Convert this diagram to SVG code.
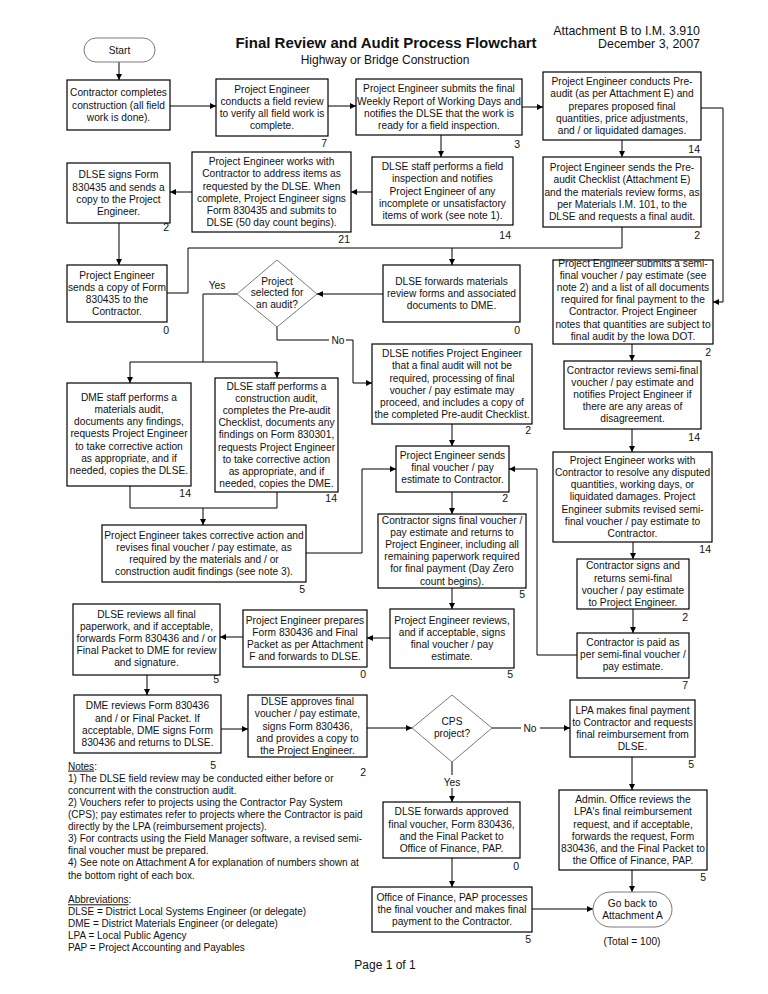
<svg xmlns="http://www.w3.org/2000/svg" width="768" height="994" viewBox="0 0 768 994">
<defs>
<style>
text{font-family:"Liberation Sans",Arial,Helvetica,sans-serif;fill:#111}
.t{font-size:10.2px;text-anchor:middle}
.n{font-size:10.5px;text-anchor:end}
.box{fill:#fff;stroke:#000;stroke-width:1.2}
.dia{fill:#fff;stroke:#7a7a7a;stroke-width:1}
.term{fill:#fff;stroke:#7a7a7a;stroke-width:1}
.c{fill:none;stroke:#000;stroke-width:1}
.a{marker-end:url(#ah)}
.lbl{font-size:10.2px;text-anchor:middle}
.note{font-size:10px}
</style>
<marker id="ah" viewBox="0 0 10 10" refX="10" refY="5" markerWidth="7" markerHeight="6" markerUnits="userSpaceOnUse" orient="auto"><path d="M0,0 L10,5 L0,10 z" fill="#000"/></marker>
</defs>
<rect width="768" height="994" fill="#fff"/>

<g id="header">
<text x="386" y="48" style="font-size:15px;font-weight:bold;text-anchor:middle">Final Review and Audit Process Flowchart</text>
<text x="385" y="64" style="font-size:12px;text-anchor:middle">Highway or Bridge Construction</text>
<text x="700" y="35" style="font-size:12.4px;text-anchor:end">Attachment B to I.M. 3.910</text>
<text x="700" y="48" style="font-size:12.4px;text-anchor:end">December 3, 2007</text>
</g>

<g id="connectors">
<path class="c a" d="M119,62 V80"/>
<path class="c a" d="M170,106 H216"/>
<path class="c a" d="M328,106 H356"/>
<path class="c a" d="M522,107 H543"/>
<path class="c a" d="M441,135 V157"/>
<path class="c a" d="M622,140 V157"/>
<path class="c a" d="M372,192 H351"/>
<path class="c a" d="M192,192 H170"/>
<path class="c a" d="M119,223 V265"/>
<path class="c" d="M622,227 V248 H188 V293 H167"/>
<path class="c a" d="M452,248 V265"/>
<path class="c a" d="M383,294 H317"/>
<path class="c" d="M237,294 H203 V362"/>
<path class="c" d="M130,362 H277"/>
<path class="c a" d="M130,362 V383"/>
<path class="c a" d="M277,362 V378"/>
<path class="c a" d="M277,327 V340 H353 V383 H372"/>
<path class="c" d="M130,486 V508 H277 V492"/>
<path class="c a" d="M203,508 V525"/>
<path class="c a" d="M306,553 H362 V469 H396"/>
<path class="c a" d="M452,424 V446"/>
<path class="c a" d="M452,492 V514"/>
<path class="c a" d="M452,588 V609"/>
<path class="c a" d="M390,638 H367"/>
<path class="c a" d="M243,637 H220"/>
<path class="c a" d="M147,675 V695"/>
<path class="c a" d="M221,729 H248"/>
<path class="c a" d="M367,728 H412"/>
<path class="c a" d="M492,728 H570"/>
<path class="c a" d="M452,762 V802"/>
<path class="c a" d="M452,858 V887"/>
<path class="c a" d="M532,909 H593"/>
<path class="c a" d="M632,757 V790"/>
<path class="c a" d="M632,870 V892"/>
<path class="c a" d="M701,108 H723 V302 H713"/>
<path class="c a" d="M632,344 V361"/>
<path class="c a" d="M632,429 V452"/>
<path class="c a" d="M633,542 V559"/>
<path class="c a" d="M633,609 V633"/>
<path class="c a" d="M577,655 H537 V469 H509"/>
<rect x="329" y="334" width="17" height="12" fill="#fff"/>
<text class="lbl" x="338" y="343.6">No</text>
<text class="lbl" x="217" y="288.6">Yes</text>
<rect x="521" y="722" width="19" height="12" fill="#fff"/>
<text class="lbl" x="530" y="731.6">No</text>
<rect x="440" y="775" width="24" height="13" fill="#fff"/>
<text class="lbl" x="452" y="785.6">Yes</text>
</g>

<g id="start">
<rect class="term" x="84" y="38" width="71" height="24" rx="12"/>
<text class="t" x="119.5" y="53.6">Start</text>
</g>

<g id="n_contractor_completes">
<rect class="box" x="67" y="80" width="103" height="50"/>
<text class="t" y="96.4"><tspan x="118.5">Contractor completes</tspan><tspan x="118.5" dy="12.2">construction (all field</tspan><tspan x="118.5" dy="12.2">work is done).</tspan></text>
</g>

<g id="n_field_review">
<rect class="box" x="216" y="79" width="112" height="57"/>
<text class="t" y="92.8"><tspan x="272">Project Engineer</tspan><tspan x="272" dy="12.2">conducts a field review</tspan><tspan x="272" dy="12.2">to verify all field work is</tspan><tspan x="272" dy="12.2">complete.</tspan></text>
<text class="n" x="327" y="147">7</text>
</g>

<g id="n_weekly_report">
<rect class="box" x="356" y="79" width="166" height="56"/>
<text class="t" y="92.3"><tspan x="439">Project Engineer submits the final</tspan><tspan x="439" dy="12.2">Weekly Report of Working Days and</tspan><tspan x="439" dy="12.2">notifies the DLSE that the work is</tspan><tspan x="439" dy="12.2">ready for a field inspection.</tspan></text>
<text class="n" x="520" y="148">3</text>
</g>

<g id="n_preaudit">
<rect class="box" x="543" y="72" width="158" height="68"/>
<text class="t" y="85.2"><tspan x="622">Project Engineer conducts Pre-</tspan><tspan x="622" dy="12.2">audit (as per Attachment E) and</tspan><tspan x="622" dy="12.2">prepares proposed final</tspan><tspan x="622" dy="12.2">quantities, price adjustments,</tspan><tspan x="622" dy="12.2">and / or liquidated damages.</tspan></text>
<text class="n" x="700" y="152.6">14</text>
</g>

<g id="n_dlse_signs">
<rect class="box" x="67" y="163" width="103" height="60"/>
<text class="t" y="178.3"><tspan x="118.5">DLSE signs Form</tspan><tspan x="118.5" dy="12.2">830435 and sends a</tspan><tspan x="118.5" dy="12.2">copy to the Project</tspan><tspan x="118.5" dy="12.2">Engineer.</tspan></text>
<text class="n" x="169" y="231">2</text>
</g>

<g id="n_pe_works">
<rect class="box" x="192" y="152" width="159" height="80"/>
<text class="t" y="165.1"><tspan x="271.5">Project Engineer works with</tspan><tspan x="271.5" dy="12.2">Contractor to address items as</tspan><tspan x="271.5" dy="12.2">requested by the DLSE.  When</tspan><tspan x="271.5" dy="12.2">complete, Project Engineer signs</tspan><tspan x="271.5" dy="12.2">Form 830435 and submits to</tspan><tspan x="271.5" dy="12.2">DLSE (50 day count begins).</tspan></text>
<text class="n" x="350" y="243">21</text>
</g>

<g id="n_field_inspection">
<rect class="box" x="372" y="157" width="141" height="68"/>
<text class="t" y="170.2"><tspan x="442.5">DLSE staff performs a field</tspan><tspan x="442.5" dy="12.2">inspection and notifies</tspan><tspan x="442.5" dy="12.2">Project Engineer of any</tspan><tspan x="442.5" dy="12.2">incomplete or unsatisfactory</tspan><tspan x="442.5" dy="12.2">items of work (see note 1).</tspan></text>
<text class="n" x="511" y="238.6">14</text>
</g>

<g id="n_checklist">
<rect class="box" x="543" y="157" width="158" height="70"/>
<text class="t" y="171.2"><tspan x="622">Project Engineer sends the Pre-</tspan><tspan x="622" dy="12.2">audit Checklist (Attachment E)</tspan><tspan x="622" dy="12.2">and the materials review forms, as</tspan><tspan x="622" dy="12.2">per Materials I.M. 101, to the</tspan><tspan x="622" dy="12.2">DLSE and requests a final audit.</tspan></text>
<text class="n" x="700" y="238.6">2</text>
</g>

<g id="n_send_copy">
<rect class="box" x="67" y="265" width="100" height="57"/>
<text class="t" y="278.8"><tspan x="117">Project Engineer</tspan><tspan x="117" dy="12.2">sends a copy of Form</tspan><tspan x="117" dy="12.2">830435 to the</tspan><tspan x="117" dy="12.2">Contractor.</tspan></text>
<text class="n" x="169" y="333.6">0</text>
</g>

<g id="n_forwards_materials">
<rect class="box" x="383" y="265" width="137" height="57"/>
<text class="t" y="284.9"><tspan x="451.5">DLSE forwards materials</tspan><tspan x="451.5" dy="12.2">review forms and associated</tspan><tspan x="451.5" dy="12.2">documents to DME.</tspan></text>
<text class="n" x="520" y="333.6">0</text>
</g>

<g id="d_audit">
<polygon class="dia" points="277,260 317,294 277,327 237,294"/>
<text class="t" y="284.5"><tspan x="277">Project</tspan><tspan x="277" dy="11.8">selected for</tspan><tspan x="277" dy="11.8">an audit?</tspan></text>
</g>

<g id="n_dme_audit">
<rect class="box" x="67" y="383" width="124" height="103"/>
<text class="t" y="400.8"><tspan x="129">DME staff performs a</tspan><tspan x="129" dy="12.2">materials audit,</tspan><tspan x="129" dy="12.2">documents any findings,</tspan><tspan x="129" dy="12.2">requests Project Engineer</tspan><tspan x="129" dy="12.2">to take corrective action</tspan><tspan x="129" dy="12.2">as appropriate, and if</tspan><tspan x="129" dy="12.2">needed, copies the DLSE.</tspan></text>
<text class="n" x="191" y="496.6">14</text>
</g>

<g id="n_dlse_audit">
<rect class="box" x="215" y="378" width="123" height="114"/>
<text class="t" y="389.5"><tspan x="276.5">DLSE staff performs a</tspan><tspan x="276.5" dy="12.2">construction audit,</tspan><tspan x="276.5" dy="12.2">completes the Pre-audit</tspan><tspan x="276.5" dy="12.2">Checklist, documents any</tspan><tspan x="276.5" dy="12.2">findings on Form 830301,</tspan><tspan x="276.5" dy="12.2">requests Project Engineer</tspan><tspan x="276.5" dy="12.2">to take corrective action</tspan><tspan x="276.5" dy="12.2">as appropriate, and if</tspan><tspan x="276.5" dy="12.2">needed, copies the DME.</tspan></text>
<text class="n" x="337" y="501.6">14</text>
</g>

<g id="n_no_audit">
<rect class="box" x="372" y="344" width="160" height="80"/>
<text class="t" y="357.1"><tspan x="452">DLSE notifies Project Engineer</tspan><tspan x="452" dy="12.2">that a final audit will not be</tspan><tspan x="452" dy="12.2">required, processing of final</tspan><tspan x="452" dy="12.2">voucher / pay estimate may</tspan><tspan x="452" dy="12.2">proceed, and includes a copy of</tspan><tspan x="452" dy="12.2">the completed Pre-audit Checklist.</tspan></text>
<text class="n" x="531" y="433.6">2</text>
</g>

<g id="n_semifinal">
<rect class="box" x="553" y="260" width="160" height="84"/>
<text class="t" y="267"><tspan x="633">Project Engineer submits a semi-</tspan><tspan x="633" dy="12.1">final voucher / pay estimate (see</tspan><tspan x="633" dy="12.1">note 2) and a list of all documents</tspan><tspan x="633" dy="12.1">required for final payment to the</tspan><tspan x="633" dy="12.1">Contractor.  Project Engineer</tspan><tspan x="633" dy="12.1">notes that quantities are subject to</tspan><tspan x="633" dy="12.1">final audit by the Iowa DOT.</tspan></text>
<text class="n" x="711" y="355.6">2</text>
</g>

<g id="n_contractor_reviews">
<rect class="box" x="564" y="361" width="137" height="68"/>
<text class="t" y="373.5"><tspan x="632.5">Contractor reviews semi-final</tspan><tspan x="632.5" dy="12.2">voucher / pay estimate and</tspan><tspan x="632.5" dy="12.2">notifies Project Engineer if</tspan><tspan x="632.5" dy="12.2">there are any areas of</tspan><tspan x="632.5" dy="12.2">disagreement.</tspan></text>
<text class="n" x="700" y="440.6">14</text>
</g>

<g id="n_corrective">
<rect class="box" x="102" y="525" width="204" height="57"/>
<text class="t" y="538.5"><tspan x="204">Project Engineer takes corrective action and</tspan><tspan x="204" dy="12.2">revises final voucher / pay estimate, as</tspan><tspan x="204" dy="12.2">required by the materials and / or</tspan><tspan x="204" dy="12.2">construction audit findings (see note 3).</tspan></text>
<text class="n" x="305" y="592.6">5</text>
</g>

<g id="n_sends_final">
<rect class="box" x="396" y="446" width="113" height="46"/>
<text class="t" y="459"><tspan x="452.5">Project Engineer sends</tspan><tspan x="452.5" dy="12.2">final voucher / pay</tspan><tspan x="452.5" dy="12.2">estimate to Contractor.</tspan></text>
<text class="n" x="508" y="501.6">2</text>
</g>

<g id="n_contractor_signs_final">
<rect class="box" x="378" y="514" width="148" height="74"/>
<text class="t" y="523.5"><tspan x="452">Contractor signs final voucher /</tspan><tspan x="452" dy="12.2">pay estimate and returns to</tspan><tspan x="452" dy="12.2">Project Engineer, including all</tspan><tspan x="452" dy="12.2">remaining paperwork required</tspan><tspan x="452" dy="12.2">for final payment (Day Zero</tspan><tspan x="452" dy="12.2">count begins).</tspan></text>
<text class="n" x="525" y="597.6">5</text>
</g>

<g id="n_resolve">
<rect class="box" x="553" y="452" width="159" height="90"/>
<text class="t" y="463.8"><tspan x="632.5">Project Engineer works with</tspan><tspan x="632.5" dy="12.2">Contractor to resolve any disputed</tspan><tspan x="632.5" dy="12.2">quantities, working days, or</tspan><tspan x="632.5" dy="12.2">liquidated damages.  Project</tspan><tspan x="632.5" dy="12.2">Engineer submits revised semi-</tspan><tspan x="632.5" dy="12.2">final voucher / pay estimate to</tspan><tspan x="632.5" dy="12.2">Contractor.</tspan></text>
<text class="n" x="711" y="552.6">14</text>
</g>

<g id="n_contractor_signs_semi">
<rect class="box" x="577" y="559" width="112" height="50"/>
<text class="t" y="569.3"><tspan x="633">Contractor signs and</tspan><tspan x="633" dy="12.2">returns semi-final</tspan><tspan x="633" dy="12.2">voucher / pay estimate</tspan><tspan x="633" dy="12.2">to Project Engineer.</tspan></text>
<text class="n" x="688" y="620.6">2</text>
</g>

<g id="n_paid_semi">
<rect class="box" x="577" y="633" width="112" height="45"/>
<text class="t" y="646"><tspan x="633">Contractor is paid as</tspan><tspan x="633" dy="12.2">per semi-final voucher /</tspan><tspan x="633" dy="12.2">pay estimate.</tspan></text>
<text class="n" x="688" y="688.6">7</text>
</g>

<g id="n_pe_reviews">
<rect class="box" x="390" y="609" width="124" height="59"/>
<text class="t" y="623.8"><tspan x="452">Project Engineer reviews,</tspan><tspan x="452" dy="12.2">and if acceptable, signs</tspan><tspan x="452" dy="12.2">final voucher / pay</tspan><tspan x="452" dy="12.2">estimate.</tspan></text>
<text class="n" x="513" y="677.6">5</text>
</g>

<g id="n_prepares">
<rect class="box" x="243" y="610" width="124" height="57"/>
<text class="t" y="623.8"><tspan x="305">Project Engineer prepares</tspan><tspan x="305" dy="12.2">Form 830436 and Final</tspan><tspan x="305" dy="12.2">Packet as per Attachment</tspan><tspan x="305" dy="12.2">F and forwards to DLSE.</tspan></text>
<text class="n" x="366" y="677.6">0</text>
</g>

<g id="n_dlse_reviews">
<rect class="box" x="73" y="604" width="147" height="71"/>
<text class="t" y="617.5"><tspan x="146.5">DLSE reviews all final</tspan><tspan x="146.5" dy="12.2">paperwork, and if acceptable,</tspan><tspan x="146.5" dy="12.2">forwards Form 830436 and / or</tspan><tspan x="146.5" dy="12.2">Final Packet to DME for review</tspan><tspan x="146.5" dy="12.2">and signature.</tspan></text>
<text class="n" x="219" y="682.6">5</text>
</g>

<g id="n_dme_reviews">
<rect class="box" x="74" y="695" width="147" height="58"/>
<text class="t" y="709.3"><tspan x="147.5">DME reviews Form 830436</tspan><tspan x="147.5" dy="12.2">and / or  Final Packet.  If</tspan><tspan x="147.5" dy="12.2">acceptable, DME signs Form</tspan><tspan x="147.5" dy="12.2">830436 and returns to DLSE.</tspan></text>
<text class="n" x="216" y="768.6">5</text>
</g>

<g id="n_dlse_approves">
<rect class="box" x="248" y="695" width="119" height="62"/>
<text class="t" y="705.2"><tspan x="307.5">DLSE approves final</tspan><tspan x="307.5" dy="12.2">voucher / pay estimate,</tspan><tspan x="307.5" dy="12.2">signs Form 830436,</tspan><tspan x="307.5" dy="12.2">and provides a copy to</tspan><tspan x="307.5" dy="12.2">the Project Engineer.</tspan></text>
<text class="n" x="366" y="775.6">2</text>
</g>

<g id="d_cps">
<polygon class="dia" points="452,695 492,728 452,762 412,728"/>
<text class="t" y="725.3"><tspan x="452">CPS</tspan><tspan x="452" dy="11.6">project?</tspan></text>
</g>

<g id="n_lpa_pays">
<rect class="box" x="570" y="700" width="125" height="57"/>
<text class="t" y="713.8"><tspan x="632.5">LPA makes final payment</tspan><tspan x="632.5" dy="12.2">to Contractor and requests</tspan><tspan x="632.5" dy="12.2">final reimbursement from</tspan><tspan x="632.5" dy="12.2">DLSE.</tspan></text>
<text class="n" x="694" y="767.6">5</text>
</g>

<g id="n_admin_office">
<rect class="box" x="559" y="790" width="148" height="80"/>
<text class="t" y="803.1"><tspan x="633">Admin. Office reviews the</tspan><tspan x="633" dy="12.2">LPA's final reimbursement</tspan><tspan x="633" dy="12.2">request, and if acceptable,</tspan><tspan x="633" dy="12.2">forwards the request, Form</tspan><tspan x="633" dy="12.2">830436, and the Final Packet to</tspan><tspan x="633" dy="12.2">the Office of Finance, PAP.</tspan></text>
<text class="n" x="706" y="880.6">5</text>
</g>

<g id="n_forwards_approved">
<rect class="box" x="383" y="802" width="137" height="56"/>
<text class="t" y="815.3"><tspan x="451.5">DLSE forwards approved</tspan><tspan x="451.5" dy="12.2">final voucher, Form 830436,</tspan><tspan x="451.5" dy="12.2">and the Final Packet to</tspan><tspan x="451.5" dy="12.2">Office of Finance, PAP.</tspan></text>
<text class="n" x="519" y="869.6">0</text>
</g>

<g id="n_office_finance">
<rect class="box" x="372" y="887" width="160" height="45"/>
<text class="t" y="900.9"><tspan x="452">Office of Finance, PAP processes</tspan><tspan x="452" dy="12.2">the final voucher and makes final</tspan><tspan x="452" dy="12.2">payment to the Contractor.</tspan></text>
<text class="n" x="531" y="942.6">5</text>
</g>

<g id="end">
<rect class="term" x="593" y="892" width="79" height="35" rx="17.5"/>
<text class="t" y="907"><tspan x="632.5">Go back to</tspan><tspan x="632.5" dy="12.2">Attachment A</tspan></text>
<text class="t" x="632" y="944.6">(Total = 100)</text>
</g>

<g id="notes">
<text class="note" y="769.6"><tspan x="68" text-decoration="underline">Notes</tspan><tspan>:</tspan><tspan x="68" dy="12.1">1) The DLSE field review may be conducted either before or</tspan><tspan x="68" dy="12.1">concurrent with the construction audit.</tspan><tspan x="68" dy="12.1">2) Vouchers refer to projects using the Contractor Pay System</tspan><tspan x="68" dy="12.1">(CPS); pay estimates refer to projects where the Contractor is paid</tspan><tspan x="68" dy="12.1">directly by the LPA (reimbursement projects).</tspan><tspan x="68" dy="12.1">3) For contracts using the Field Manager software, a revised semi-</tspan><tspan x="68" dy="12.1">final voucher must be prepared.</tspan><tspan x="68" dy="12.1">4) See note on Attachment A for explanation of numbers shown at</tspan><tspan x="68" dy="12.1">the bottom right of each box.</tspan></text>
<text class="note" y="903.3"><tspan x="68" text-decoration="underline">Abbreviations</tspan><tspan>:</tspan><tspan x="68" dy="11.8">DLSE = District Local Systems Engineer (or delegate)</tspan><tspan x="68" dy="11.8">DME = District Materials Engineer (or delegate)</tspan><tspan x="68" dy="11.8">LPA = Local Public Agency</tspan><tspan x="68" dy="11.8">PAP = Project Accounting and Payables</tspan></text>
</g>

<g id="footer">
<text x="385" y="969" style="font-size:12px;text-anchor:middle">Page 1 of 1</text>
</g>
</svg>
